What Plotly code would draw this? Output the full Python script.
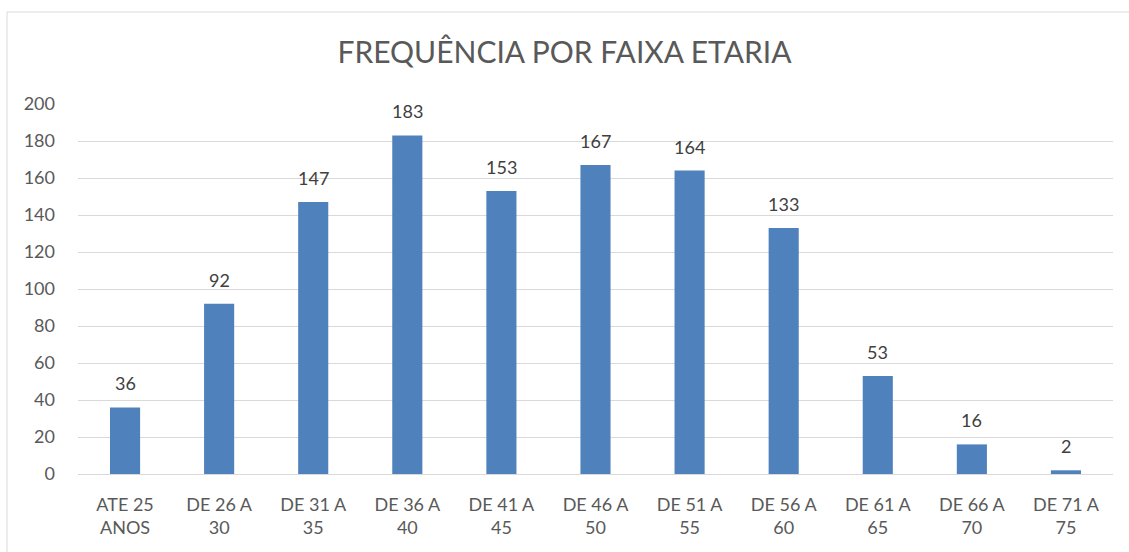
import plotly.graph_objects as go

categories = ["ATE 25<br>ANOS", "DE 26 A<br>30", "DE 31 A<br>35", "DE 36 A<br>40", "DE 41 A<br>45",
              "DE 46 A<br>50", "DE 51 A<br>55", "DE 56 A<br>60", "DE 61 A<br>65", "DE 66 A<br>70", "DE 71 A<br>75"]
values = [36, 92, 147, 183, 153, 167, 164, 133, 53, 16, 2]
y_ticks = [0, 20, 40, 60, 80, 100, 120, 140, 160, 180, 200]

W, H = 1129, 552
L, R, T, B = 78, 16, 104, 78
pw, ph = W - L - R, H - T - B

fig = go.Figure(go.Bar(
    x=categories, y=values, width=0.32,
    marker=dict(color="#4F81BD", line=dict(width=0)),
    hoverinfo="x+y",
))

for c, v in zip(categories, values):
    fig.add_annotation(x=c, y=v, text=str(v), showarrow=False, yanchor="bottom",
                       yshift=11, font=dict(size=18, color="#404040", family="Lato"))

fig.update_layout(
    width=W, height=H,
    margin=dict(l=L, r=R, t=T, b=B),
    paper_bgcolor="white", plot_bgcolor="white",
    font=dict(family="Lato", color="#595959"),
    title=dict(text="FREQUÊNCIA POR FAIXA ETARIA", x=0.5, xanchor="center",
               y=1 - 52 / H, yanchor="middle",
               font=dict(size=30, color="#595959", family="Lato")),
    showlegend=False,
    xaxis=dict(showgrid=False, showline=True, linecolor="#D9D9D9", linewidth=1,
               ticks="", tickfont=dict(size=18, color="#595959"), ticklabelstandoff=14),
    yaxis=dict(range=[0, 200], tickvals=y_ticks, showgrid=True, gridcolor="#D9D9D9",
               gridwidth=1, zeroline=False, showline=False, ticks="",
               tickfont=dict(size=18, color="#595959"), ticklabelstandoff=22),
    shapes=[dict(type="rect", xref="paper", yref="paper",
                 x0=(7 - L) / pw, x1=(W + 5 - L) / pw,
                 y0=-(H + 5 - T - ph) / ph, y1=(H - 12 - B) / ph,
                 line=dict(color="#D9D9D9", width=1), layer="below")],
)

fig.write_html("out.html", config={"displayModeBar": False},
               post_script="document.body.style.margin='0';document.body.style.overflow='hidden';")
